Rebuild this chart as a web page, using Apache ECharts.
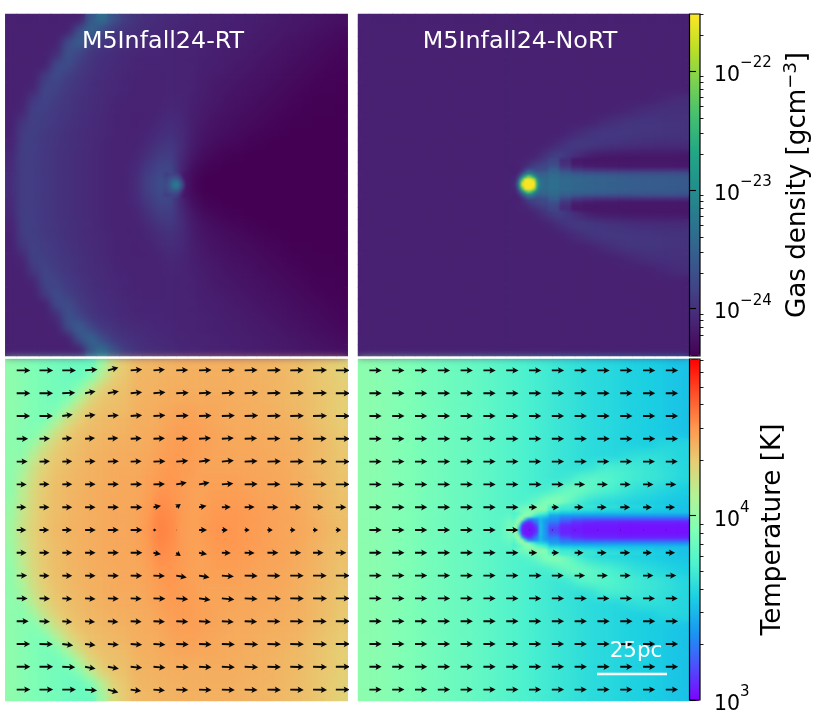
<!DOCTYPE html>
<html>
<head>
<meta charset="utf-8">
<style>
html, body { margin: 0; padding: 0; background: #fff; }
#main { position: relative; width: 830px; height: 715px; overflow: hidden; }
.layer { position: absolute; left: 0; top: 0; width: 830px; height: 715px; }
/* the simulation maps are smooth images, so the cell layers get softened and cut back to the four panels */
.clip { position: absolute; left: 0; top: 0; width: 830px; height: 715px;
  clip-path: path('M5.3 14H347.7V356H5.3Z M358 14H689.3V356H358Z M5.3 359H347.7V701H5.3Z M358 359H689.3V701H358Z'); }
#smooth { filter: blur(4px); }
#patch { filter: blur(0.8px); }
</style>
<script src="https://cdn.jsdelivr.net/npm/echarts@6/dist/echarts.min.js"></script>
</head>
<body>
<div id="main">
  <div id="fields" class="layer"></div>
  <div class="clip"><div id="smooth" class="layer"></div></div>
  <div class="clip"><div id="patch" class="layer"></div></div>
  <div id="overlay" class="layer"></div>
</div>
<script>
// density cells: 100*log10(rho / 1e-25), temperature cells: 100*log10(T / 1000)
var densityRT = [
[86,86,86,86,86,86,86,138,165,132,110,102,98,95,93,91,90,88,87,86,85,84,83,81,80,78,77,76,74,72],
[86,86,86,86,86,86,130,155,125,108,102,98,95,93,91,90,88,87,86,85,84,83,81,80,78,77,75,73,71,69],
[86,86,86,86,86,124,145,120,106,101,97,94,92,90,90,88,87,86,85,84,83,81,80,78,76,74,72,70,68,66],
[86,86,86,86,96,134,118,105,100,96,93,91,90,90,89,88,87,86,85,83,82,80,78,76,74,72,70,68,66,64],
[86,86,86,86,124,126,110,102,98,95,92,90,89,89,89,88,87,85,84,82,80,78,76,74,72,70,68,66,64,63],
[86,86,86,110,125,112,105,100,96,93,91,89,88,88,89,88,86,84,82,80,78,76,74,72,70,68,66,64,62,62],
[86,86,90,120,116,108,103,98,95,92,90,88,87,88,89,88,86,83,80,78,76,74,72,70,68,66,64,62,62,61],
[86,86,108,118,110,105,100,97,94,91,89,87,87,88,90,89,85,82,79,76,74,72,70,68,66,64,62,61,61,61],
[86,90,116,113,108,104,100,96,93,90,88,87,87,89,92,90,84,80,77,74,72,70,68,66,64,62,61,61,61,60],
[86,104,115,110,106,102,98,95,92,89,87,86,88,92,96,92,83,78,74,72,70,68,66,64,62,61,61,60,60,60],
[86,110,113,108,104,100,97,94,92,89,87,87,90,96,100,94,82,76,72,70,67,65,63,62,61,60,60,60,60,60],
[88,112,112,107,103,100,97,94,91,88,87,88,94,102,106,96,80,73,69,66,64,62,61,60,60,60,60,60,60,60],
[92,112,111,106,102,99,96,93,91,88,87,90,100,110,112,92,77,68,64,62,61,60,60,60,60,60,60,60,60,60],
[94,112,111,106,102,99,96,93,91,88,88,93,108,118,120,88,70,63,61,60,60,60,60,60,60,60,60,60,60,60],
[96,112,111,106,102,99,96,93,91,88,88,96,114,125,130,85,66,60,60,60,60,60,60,60,60,60,60,60,60,60],
[96,112,111,106,102,99,96,93,91,88,88,96,114,125,130,85,66,60,60,60,60,60,60,60,60,60,60,60,60,60],
[94,112,111,106,102,99,96,93,91,88,88,93,108,118,120,88,70,63,61,60,60,60,60,60,60,60,60,60,60,60],
[92,112,111,106,102,99,96,93,91,88,87,90,100,110,112,92,77,68,64,62,61,60,60,60,60,60,60,60,60,60],
[88,112,112,107,103,100,97,94,91,88,87,88,94,102,106,96,80,73,69,66,64,62,61,60,60,60,60,60,60,60],
[86,110,113,108,104,100,97,94,92,89,87,87,90,96,100,94,82,76,72,70,67,65,63,62,61,60,60,60,60,60],
[86,104,115,110,106,102,98,95,92,89,87,86,88,92,96,92,83,78,74,72,70,68,66,64,62,61,61,60,60,60],
[86,90,116,113,108,104,100,96,93,90,88,87,87,89,92,90,84,80,77,74,72,70,68,66,64,62,61,61,61,60],
[86,86,108,118,110,105,100,97,94,91,89,87,87,88,90,89,85,82,79,76,74,72,70,68,66,64,62,61,61,61],
[86,86,90,120,116,108,103,98,95,92,90,88,87,88,89,88,86,83,80,78,76,74,72,70,68,66,64,62,62,61],
[86,86,86,110,125,112,105,100,96,93,91,89,88,88,89,88,86,84,82,80,78,76,74,72,70,68,66,64,62,62],
[86,86,86,86,124,126,110,102,98,95,92,90,89,89,89,88,87,85,84,82,80,78,76,74,72,70,68,66,64,63],
[86,86,86,86,96,134,118,105,100,96,93,91,90,90,89,88,87,86,85,83,82,80,78,76,74,72,70,68,66,64],
[86,86,86,86,86,124,145,120,106,101,97,94,92,90,90,88,87,86,85,84,83,81,80,78,76,74,72,70,68,66],
[86,86,86,86,86,86,130,155,125,108,102,98,95,93,91,90,88,87,86,85,84,83,81,80,78,77,75,73,71,69],
[86,86,86,86,86,86,86,138,165,132,110,102,98,95,93,91,90,88,87,86,85,84,83,81,80,78,77,76,74,72]
];

var densityRTCore = [
[110,112,114,114,110,95,80,76],
[116,122,128,130,128,110,84,75],
[120,128,142,152,150,128,96,74],
[122,132,150,172,175,148,110,75],
[122,132,150,172,175,148,110,75],
[120,128,142,152,150,128,96,74],
[116,122,128,130,128,110,84,75],
[110,112,114,114,110,95,80,76]
];

var densityNoRT = [
[86,86,86,86,86,86,86,86,86,86,86,86,86,86,86,86,86,86,86,86,86,86,86,86,86,86,86,86,86],
[86,86,86,86,86,86,86,86,86,86,86,86,86,86,86,86,86,86,86,86,86,86,86,86,86,86,86,86,86],
[86,86,86,86,86,86,86,86,86,86,86,86,86,86,86,86,86,86,86,86,86,86,86,86,86,86,86,86,86],
[86,86,86,86,86,86,86,86,86,86,86,86,86,86,86,86,86,86,86,86,86,86,86,86,86,86,86,86,86],
[86,86,86,86,86,86,86,86,86,86,86,86,86,86,86,86,86,86,86,86,86,86,86,86,86,86,86,86,86],
[86,86,86,86,86,86,86,86,86,86,86,86,86,86,86,86,86,86,86,86,86,86,86,86,86,86,86,86,86],
[86,86,86,86,86,86,86,86,86,86,86,86,86,86,86,86,86,86,86,86,86,86,86,86,86,86,86,86,86],
[86,86,86,86,86,86,86,86,86,86,86,86,86,86,86,86,86,86,86,86,86,86,86,86,86,86,90,94,97],
[86,86,86,86,86,86,86,86,86,86,86,86,86,86,86,86,86,86,86,86,86,86,87,90,94,98,100,100,100],
[86,86,86,86,86,86,86,86,86,86,86,86,86,86,86,86,86,86,86,86,88,95,100,103,104,104,103,102,102],
[86,86,86,86,86,86,86,86,86,86,86,86,86,86,86,86,86,86,90,98,104,106,106,106,105,104,103,102,102],
[86,86,86,86,86,86,86,86,86,86,86,86,86,86,86,86,87,96,106,110,108,104,102,100,98,97,96,96,96],
[86,86,86,86,86,86,86,86,86,86,86,86,86,86,86,88,104,116,104,90,82,80,79,78,78,78,78,78,78],
[86,86,86,86,86,86,86,86,86,86,86,86,86,86,90,115,125,118,92,86,82,80,80,79,79,79,79,79,79],
[86,86,86,86,86,86,86,86,86,86,86,86,86,87,180,220,150,150,148,146,145,145,144,144,143,143,142,141,141],
[86,86,86,86,86,86,86,86,86,86,86,86,86,87,180,220,150,150,148,146,145,145,144,144,143,143,142,141,141],
[86,86,86,86,86,86,86,86,86,86,86,86,86,86,90,115,125,118,92,86,82,80,80,79,79,79,79,79,79],
[86,86,86,86,86,86,86,86,86,86,86,86,86,86,86,88,104,116,104,90,82,80,79,78,78,78,78,78,78],
[86,86,86,86,86,86,86,86,86,86,86,86,86,86,86,86,87,96,106,110,108,104,102,100,98,97,96,96,96],
[86,86,86,86,86,86,86,86,86,86,86,86,86,86,86,86,86,86,90,98,104,106,106,106,105,104,103,102,102],
[86,86,86,86,86,86,86,86,86,86,86,86,86,86,86,86,86,86,86,86,88,95,100,103,104,104,103,102,102],
[86,86,86,86,86,86,86,86,86,86,86,86,86,86,86,86,86,86,86,86,86,86,87,90,94,98,100,100,100],
[86,86,86,86,86,86,86,86,86,86,86,86,86,86,86,86,86,86,86,86,86,86,86,86,86,86,90,94,97],
[86,86,86,86,86,86,86,86,86,86,86,86,86,86,86,86,86,86,86,86,86,86,86,86,86,86,86,86,86],
[86,86,86,86,86,86,86,86,86,86,86,86,86,86,86,86,86,86,86,86,86,86,86,86,86,86,86,86,86],
[86,86,86,86,86,86,86,86,86,86,86,86,86,86,86,86,86,86,86,86,86,86,86,86,86,86,86,86,86],
[86,86,86,86,86,86,86,86,86,86,86,86,86,86,86,86,86,86,86,86,86,86,86,86,86,86,86,86,86],
[86,86,86,86,86,86,86,86,86,86,86,86,86,86,86,86,86,86,86,86,86,86,86,86,86,86,86,86,86],
[86,86,86,86,86,86,86,86,86,86,86,86,86,86,86,86,86,86,86,86,86,86,86,86,86,86,86,86,86],
[86,86,86,86,86,86,86,86,86,86,86,86,86,86,86,86,86,86,86,86,86,86,86,86,86,86,86,86,86]
];

var densityCore = [
[86,86,87,92,100,106,112,112,118,120,122,122],
[86,86,90,100,120,145,145,135,128,130,132,132],
[86,88,100,130,165,185,180,165,150,148,150,150],
[86,92,125,185,245,290,268,210,172,155,155,155],
[87,100,170,265,348,348,348,315,202,165,160,158],
[88,110,200,330,348,348,348,348,232,170,160,158],
[88,110,200,330,348,348,348,348,232,170,160,158],
[87,100,170,265,348,348,348,315,202,165,160,158],
[86,92,125,185,245,290,268,210,172,155,155,155],
[86,88,100,130,165,185,180,165,150,148,150,150],
[86,86,90,100,120,145,145,135,128,130,132,132],
[86,86,87,92,100,106,112,112,118,120,122,122]
];

var densityTail = [
[118,96,80,78,78,78,78,78,78,78,78,78],
[122,98,81,79,79,79,79,79,79,79,79,79],
[130,105,88,84,82,81,80,80,80,80,80,80],
[145,122,108,102,100,99,98,98,98,98,98,98],
[155,142,132,128,126,125,124,124,124,124,124,124],
[160,152,148,146,144,142,140,139,138,138,137,136],
[164,157,154,151,149,147,145,144,143,142,141,140],
[165,158,155,152,150,148,146,145,144,143,142,141],
[165,158,155,152,150,148,146,145,144,143,142,141],
[164,157,154,151,149,147,145,144,143,142,141,140],
[160,152,148,146,144,142,140,139,138,138,137,136],
[155,142,132,128,126,125,124,124,124,124,124,124],
[145,122,108,102,100,99,98,98,98,98,98,98],
[130,105,88,84,82,81,80,80,80,80,80,80],
[122,98,81,79,79,79,79,79,79,79,79,79],
[118,96,80,78,78,78,78,78,78,78,78,78]
];

var tempRT = [
[98,95,92,90,88,86,85,84,104,124,131,136,137,138,138,139,139,139,139,139,139,138,138,137,136,135,134,132,130,128],
[98,95,92,90,88,86,85,92,113,128,132,137,138,138,139,139,140,140,140,140,139,139,138,138,137,135,134,132,130,128],
[98,95,92,90,88,87,94,113,127,132,134,138,138,139,140,140,140,140,140,140,140,139,139,138,137,136,134,132,131,129],
[98,95,92,90,88,92,111,126,132,134,135,138,139,140,141,141,141,141,141,141,140,140,139,138,137,136,135,133,131,129],
[98,95,92,90,92,109,124,131,134,135,136,139,140,141,142,143,143,142,142,141,141,140,140,139,138,137,135,133,131,129],
[98,95,92,92,108,123,130,134,136,137,138,140,140,141,143,144,144,143,142,141,141,141,140,139,139,138,136,134,132,130],
[98,95,93,106,121,129,134,136,137,138,139,140,141,142,144,145,145,144,143,142,141,141,141,140,140,139,137,135,133,131],
[98,96,103,119,128,133,135,137,138,139,140,140,141,143,145,146,145,144,143,142,142,142,141,141,140,139,138,136,134,131],
[98,98,114,125,131,134,136,138,139,140,141,141,142,144,146,146,145,144,143,143,142,142,142,141,141,140,138,136,134,132],
[98,105,120,128,133,135,137,139,140,141,141,141,143,145,147,146,145,143,143,143,143,143,142,142,141,140,138,136,135,132],
[98,110,123,130,134,136,138,139,140,141,142,142,144,146,148,146,144,144,144,144,144,143,143,142,142,140,139,137,135,133],
[98,113,125,131,135,137,138,140,141,141,142,142,144,148,148,146,144,144,145,145,145,144,143,143,142,141,139,137,135,133],
[100,115,126,132,135,137,139,140,141,142,142,142,145,150,149,146,144,144,146,146,146,145,144,143,143,141,140,138,136,134],
[102,117,127,132,135,137,139,140,141,142,142,143,146,152,150,146,144,145,147,147,147,146,145,144,143,142,140,138,136,134],
[104,119,128,133,136,138,139,140,141,142,142,143,147,153,151,146,144,146,148,148,147,146,145,144,143,142,141,139,137,135],
[104,119,128,133,136,138,139,140,141,142,142,143,147,153,151,146,144,146,148,148,147,146,145,144,143,142,141,139,137,135],
[102,117,127,132,135,137,139,140,141,142,142,143,146,152,150,146,144,145,147,147,147,146,145,144,143,142,140,138,136,134],
[100,115,126,132,135,137,139,140,141,142,142,142,145,150,149,146,144,144,146,146,146,145,144,143,143,141,140,138,136,134],
[98,113,125,131,135,137,138,140,141,141,142,142,144,148,148,146,144,144,145,145,145,144,143,143,142,141,139,137,135,133],
[98,110,123,130,134,136,138,139,140,141,142,142,144,146,148,146,144,144,144,144,144,143,143,142,142,140,139,137,135,133],
[98,105,120,128,133,135,137,139,140,141,141,141,143,145,147,146,145,143,143,143,143,143,142,142,141,140,138,136,135,132],
[98,98,114,125,131,134,136,138,139,140,141,141,142,144,146,146,145,144,143,143,142,142,142,141,141,140,138,136,134,132],
[98,96,103,119,128,133,135,137,138,139,140,140,141,143,145,146,145,144,143,142,142,142,141,141,140,139,138,136,134,131],
[98,95,93,106,121,129,134,136,137,138,139,140,141,142,144,145,145,144,143,142,141,141,141,140,140,139,137,135,133,131],
[98,95,92,92,108,123,130,134,136,137,138,140,140,141,143,144,144,143,142,141,141,141,140,139,139,138,136,134,132,130],
[98,95,92,90,92,109,124,131,134,135,136,139,140,141,142,143,143,142,142,141,141,140,140,139,138,137,135,133,131,129],
[98,95,92,90,88,92,111,126,132,134,135,138,139,140,141,141,141,141,141,141,140,140,139,138,137,136,135,133,131,129],
[98,95,92,90,88,87,94,113,127,132,134,138,138,139,140,140,140,140,140,140,140,139,139,138,137,136,134,132,131,129],
[98,95,92,90,88,86,85,92,113,128,132,137,138,138,139,139,140,140,140,140,139,139,138,138,137,135,134,132,130,128],
[98,95,92,90,88,86,85,84,104,124,131,136,137,138,138,139,139,139,139,139,139,138,138,137,136,135,134,132,130,128]
];

var tempNoRT = [
[97,96,95,93,92,90,88,87,85,84,82,80,78,76,74,72,70,68,66,64,62,61,60,58,57,56,55,53,52],
[97,96,95,93,92,90,88,87,85,84,82,80,78,76,74,72,70,68,66,64,62,61,60,58,57,56,55,53,52],
[97,96,95,93,92,90,88,87,85,84,82,80,78,76,74,72,70,68,66,64,62,61,60,58,57,56,55,53,52],
[97,96,95,93,92,90,88,87,85,84,82,80,78,76,74,72,70,68,66,64,62,61,60,58,57,56,55,53,52],
[97,96,95,93,92,90,88,87,85,84,82,80,78,76,74,72,70,68,66,64,62,61,60,58,57,56,55,53,52],
[97,96,95,93,92,90,88,87,85,84,82,80,78,76,74,72,70,68,66,64,62,61,60,58,57,56,55,53,52],
[97,96,95,93,92,90,88,87,85,84,82,80,78,76,74,72,70,68,66,64,62,61,60,58,57,56,55,53,52],
[97,96,95,93,92,90,88,87,85,84,82,80,78,76,74,72,70,68,66,64,62,61,60,58,57,56,59,60,59],
[97,96,95,93,92,90,88,87,85,84,82,80,78,76,74,72,70,68,66,64,62,61,60,62,64,64,63,61,59],
[97,96,95,93,92,90,88,87,85,84,82,80,78,76,74,72,70,68,66,64,66,72,72,71,69,67,65,63,60],
[97,96,95,93,92,90,88,87,85,84,82,80,78,76,74,72,70,68,70,77,80,78,75,72,70,68,66,63,60],
[97,96,95,93,92,90,88,87,85,84,82,80,78,76,74,72,72,78,86,86,80,75,72,68,64,62,60,58,56],
[97,96,95,93,92,90,88,87,85,84,82,80,78,76,74,80,92,96,85,72,66,63,62,60,58,57,55,54,53],
[97,96,95,93,92,90,88,87,85,84,82,80,78,78,92,105,95,72,60,58,57,56,56,55,55,54,54,53,52],
[97,96,95,93,92,90,88,87,85,84,82,80,80,90,100,30,40,30,10,8,6,5,5,5,5,5,5,5,5],
[97,96,95,93,92,90,88,87,85,84,82,80,80,90,100,30,40,30,10,8,6,5,5,5,5,5,5,5,5],
[97,96,95,93,92,90,88,87,85,84,82,80,78,78,92,105,95,72,60,58,57,56,56,55,55,54,54,53,52],
[97,96,95,93,92,90,88,87,85,84,82,80,78,76,74,80,92,96,85,72,66,63,62,60,58,57,55,54,53],
[97,96,95,93,92,90,88,87,85,84,82,80,78,76,74,72,72,78,86,86,80,75,72,68,64,62,60,58,56],
[97,96,95,93,92,90,88,87,85,84,82,80,78,76,74,72,70,68,70,77,80,78,75,72,70,68,66,63,60],
[97,96,95,93,92,90,88,87,85,84,82,80,78,76,74,72,70,68,66,64,66,72,72,71,69,67,65,63,60],
[97,96,95,93,92,90,88,87,85,84,82,80,78,76,74,72,70,68,66,64,62,61,60,62,64,64,63,61,59],
[97,96,95,93,92,90,88,87,85,84,82,80,78,76,74,72,70,68,66,64,62,61,60,58,57,56,59,60,59],
[97,96,95,93,92,90,88,87,85,84,82,80,78,76,74,72,70,68,66,64,62,61,60,58,57,56,55,53,52],
[97,96,95,93,92,90,88,87,85,84,82,80,78,76,74,72,70,68,66,64,62,61,60,58,57,56,55,53,52],
[97,96,95,93,92,90,88,87,85,84,82,80,78,76,74,72,70,68,66,64,62,61,60,58,57,56,55,53,52],
[97,96,95,93,92,90,88,87,85,84,82,80,78,76,74,72,70,68,66,64,62,61,60,58,57,56,55,53,52],
[97,96,95,93,92,90,88,87,85,84,82,80,78,76,74,72,70,68,66,64,62,61,60,58,57,56,55,53,52],
[97,96,95,93,92,90,88,87,85,84,82,80,78,76,74,72,70,68,66,64,62,61,60,58,57,56,55,53,52],
[97,96,95,93,92,90,88,87,85,84,82,80,78,76,74,72,70,68,66,64,62,61,60,58,57,56,55,53,52]
];

var tempCore = [
[74,76,80,85,92,96,95,88,82,78,74,70],
[76,80,88,98,102,92,80,70,62,60,58,55],
[78,86,98,105,60,35,32,35,38,50,44,40],
[82,95,105,45,15,10,12,25,32,50,42,36],
[85,105,70,12,6,5,6,12,22,52,42,36],
[88,108,50,8,5,5,5,8,15,52,42,35],
[88,108,50,8,5,5,5,8,15,52,42,35],
[85,105,70,12,6,5,6,12,22,52,42,36],
[82,95,105,45,15,10,12,25,32,50,42,36],
[78,86,98,105,60,35,32,35,38,50,44,40],
[76,80,88,98,102,92,80,70,62,60,58,55],
[74,76,80,85,92,96,95,88,82,78,74,70]
];

var tempTail = [
[78,72,70,68,66,64,62,60,58,56,54,52],
[74,68,66,64,62,60,58,57,56,54,53,52],
[60,56,54,53,52,52,52,51,51,50,50,50],
[42,38,38,38,38,38,38,38,38,38,38,38],
[36,28,24,22,22,22,22,22,22,22,22,22],
[30,18,12,10,9,9,8,8,8,8,8,8],
[22,10,8,6,6,6,5,5,5,5,5,5],
[16,8,6,5,5,5,4,4,4,4,4,4],
[16,8,6,5,5,5,4,4,4,4,4,4],
[22,10,8,6,6,6,5,5,5,5,5,5],
[30,18,12,10,9,9,8,8,8,8,8,8],
[36,28,24,22,22,22,22,22,22,22,22,22],
[42,38,38,38,38,38,38,38,38,38,38,38],
[60,56,54,53,52,52,52,51,51,50,50,50],
[74,68,66,64,62,60,58,57,56,54,53,52],
[78,72,70,68,66,64,62,60,58,56,54,52]
];

// quiver components in screen pixels, v positive is up
var rtU = [
[13.7,13.7,13.7,12.5,10.5,11.5,11.5,12,12.5,13,13,13.5,13.5,14,14],
[13.7,13.7,13,10.5,11,11.5,12,12.5,12.5,13,13.5,13.5,13.7,14,14],
[13.5,13.5,10.5,10.5,11,11.5,12,12.5,12.5,13,13.5,13.5,13.7,14,14],
[11.5,10.5,10,10,10.5,11,11.5,12,12,12,12.5,13,13.5,13.7,14],
[11,10.5,10,10.5,11,11,12,12,11.5,12,13,13.5,13.7,14,14],
[10,10,10,10.5,11,11.5,11.5,10.5,10.5,11.5,13,13,13.5,13.7,14],
[9.7,10,10,10.5,11,11.7,7.5,4.5,7.5,9,10,11,11,10.5,10.5],
[9.7,9.7,9.7,10.7,11,11.7,3,0.7,8,6,5,5.3,5.3,5,5.3],
[10,10,10,10.5,11,11.7,7.5,4.5,8,9,10,11,11,10.5,10.5],
[10.5,10,10,10.5,11,11.5,11.5,10.5,10.5,12,13,13,13.5,13.7,14],
[11,10.5,10,10.5,11,11,12,12,11.5,12.5,13,13.5,13.7,14,14],
[12,10.5,10,10,10.5,11,11.5,12,12,12,12.5,13,13.5,13.7,14],
[13.5,13.5,11,10.5,11,11.5,12,12.5,12.5,13,13.5,13.5,13.7,14,14],
[13.7,13.7,13,10.5,11,11.5,12,12.5,12.5,13,13.5,13.5,13.7,14,14],
[13.7,13.7,13.7,12,10.5,10.5,11.5,12,12.5,13,13,13.5,13.5,14,14]
];
var rtV = [
[0,0,0,1,3,1,1,0.5,0.5,0.5,0.5,0.3,0.3,0.3,0],
[0,0,0.5,2,2,1,1,0.5,0.5,0.5,0.5,0.3,0.3,0.3,0],
[0,0,1.5,1.2,0.8,0.8,0.7,0.5,0.5,0.5,0.5,0.3,0.3,0.3,0],
[0,0.3,0.7,0.7,0.7,0.6,0.6,0.5,0.8,0.8,0.5,0.3,0.3,0.2,0],
[0,0.3,0.3,0.4,0.4,0.4,0.4,0.8,1.5,1.2,0.5,0.3,0.2,0.1,0],
[0,0.2,0.2,0.2,0.2,0.2,0.3,1.8,1.8,1,0.3,0.2,0.1,0.1,0],
[0,0,0,0,0,0,1.5,3.2,1.5,0.3,0.1,0,0,0,0],
[0,0,0,0,0,0,0,0,0,0,0,0,0,0,0],
[0,0,0,0,0,0,-1.5,-3.2,-1.5,-0.3,-0.1,0,0,0,0],
[0,-0.2,-0.2,-0.2,-0.2,-0.2,-0.5,-1.8,-1.8,-1,-0.3,-0.2,-0.1,-0.1,0],
[0,-0.3,-0.5,-0.5,-0.4,-0.4,-0.4,-0.8,-1.5,-1.2,-0.5,-0.3,-0.2,-0.1,0],
[0,-0.5,-0.8,-0.8,-0.7,-0.6,-0.6,-0.5,-0.8,-0.8,-0.5,-0.3,-0.3,-0.2,0],
[0,-0.3,-1.5,-1.2,-0.8,-0.8,-0.7,-0.5,-0.5,-0.5,-0.5,-0.3,-0.3,-0.3,0],
[0,0,-0.5,-2,-2,-1,-1,-0.5,-0.5,-0.5,-0.5,-0.3,-0.3,-0.3,0],
[0,0,0,-1,-3,-1.5,-1,-0.5,-0.5,-0.5,-0.5,-0.3,-0.3,-0.3,0]
];
var noRtU = [
[12.3,12.3,12.3,12.3,12.3,12.3,12.3,12.3,12.3,12.3,12.3,12.3,12.3,12.3],
[12.3,12.3,12.3,12.3,12.3,12.3,12.3,12.3,12.3,12.3,12.3,12.3,12.3,12.3],
[12.3,12.3,12.3,12.3,12.3,12.3,12.3,12.3,12.3,12.3,12.3,12.3,12.3,12.3],
[12.3,12.3,12.3,12.3,12.3,12.3,12.3,12.3,12.3,12.3,12.3,12.3,12.3,12.3],
[12.3,12.3,12.3,12.3,12.3,12.3,12.3,12.3,12.3,12.3,12,12,12,12],
[12.3,12.3,12.3,12.3,12.3,12.3,12.3,12.7,12,10.5,10.5,10.5,10.5,10.5],
[12.3,12.3,12.3,12.3,12.3,12.3,12.3,8.3,7.3,9,9.3,10,9,9.3],
[12.3,12.3,12.3,12.3,12.3,12.3,12.3,1,1.2,0.8,0.8,0.8,0.8,0.8],
[12.3,12.3,12.3,12.3,12.3,12.3,12.3,8.3,7.3,9,9.3,10,9,9.3],
[12.3,12.3,12.3,12.3,12.3,12.3,12.3,12.7,12,10.5,10.5,10.5,10.5,10.5],
[12.3,12.3,12.3,12.3,12.3,12.3,12.3,12.3,12.3,12.3,12,12,12,12],
[12.3,12.3,12.3,12.3,12.3,12.3,12.3,12.3,12.3,12.3,12.3,12.3,12.3,12.3],
[12.3,12.3,12.3,12.3,12.3,12.3,12.3,12.3,12.3,12.3,12.3,12.3,12.3,12.3],
[12.3,12.3,12.3,12.3,12.3,12.3,12.3,12.3,12.3,12.3,12.3,12.3,12.3,12.3],
[12.3,12.3,12.3,12.3,12.3,12.3,12.3,12.3,12.3,12.3,12.3,12.3,12.3,12.3]
];

var viridisColors = ['#440154','#482475','#414487','#355f8d','#2a788e','#21918c','#22a884','#44bf70','#7ad151','#bddf26','#fde725'];
var rainbowColors = ['#8000ff','#4d4ffc','#1a96f2','#1acee3','#4df2ce','#80ffb5','#b3f296','#e6ce74','#ff964f','#ff4f28','#ff0000'];

var densityRange = [60, 348];
var tempRange = [0, 185];
var densityMajor = [100, 200, 300];
var densityMinor = [77.8,84.5,90.3,95.4,130.1,147.7,160.2,169.9,177.8,184.5,190.3,195.4,230.1,247.7,260.2,269.9,277.8,284.5,290.3,295.4,330.1,347.7];
var tempMajor = [0, 100];
var tempMinor = [30.1,47.7,60.2,69.9,77.8,84.5,90.3,95.4,130.1,147.7,160.2,169.9,177.8,184.5];
var densityExp = { 100: '−24', 200: '−23', 300: '−22' };
var tempExp = { 0: '3', 100: '4' };
var panelTitles = ['M5Infall24-RT', 'M5Infall24-NoRT'];

var FONT = '"DejaVu Sans"';

function newLayer() {
    return { grids: [], xAxes: [], yAxes: [], series: [], density: [], temp: [] };
}

function addHeat(layer, box, rows, kind, z) {
    var g = layer.grids.length;
    layer.grids.push({ left: box[0], top: box[1], width: box[2], height: box[3], show: false });
    var cols = [], rowIds = [], data = [];
    for (var c = 0; c < rows[0].length; c++) cols.push(c);
    for (var r = 0; r < rows.length; r++) {
        rowIds.push(r);
        for (var k = 0; k < rows[r].length; k++) data.push([k, r, rows[r][k]]);
    }
    layer.xAxes.push({ gridIndex: g, type: 'category', data: cols, show: false });
    layer.yAxes.push({ gridIndex: g, type: 'category', data: rowIds, inverse: true, show: false });
    layer[kind].push(layer.series.length);
    layer.series.push({
        type: 'heatmap', xAxisIndex: layer.xAxes.length - 1, yAxisIndex: layer.yAxes.length - 1,
        data: data, z: z, silent: true, progressive: 0, emphasis: { disabled: true }
    });
}

function renderArrow(params, api) {
    var p = api.coord([api.value(0), api.value(1)]);
    var u = api.value(2), v = api.value(3);
    var L = Math.sqrt(u * u + v * v);
    var h = Math.min(6.2, L * 0.9), w = Math.min(3.2, L * 0.55), s = Math.min(0.95, L * 0.3);
    var shape = [[0, -s], [L - h * 0.85, -s], [L - h, -w], [L, 0], [L - h, w], [L - h * 0.85, s], [0, s]];
    var cs = u / L, sn = -v / L;
    var pts = shape.map(function (q) {
        return [p[0] + q[0] * cs - q[1] * sn, p[1] + q[0] * sn + q[1] * cs];
    });
    return { type: 'polygon', shape: { points: pts }, style: { fill: '#0a0a0a' } };
}

function addArrows(layer, box, xr, yr, U, V) {
    var g = layer.grids.length;
    layer.grids.push({ left: box[0], top: box[1], width: box[2], height: box[3], show: false });
    layer.xAxes.push({ gridIndex: g, type: 'value', min: xr[0], max: xr[1], show: false });
    layer.yAxes.push({ gridIndex: g, type: 'value', min: yr[0], max: yr[1], inverse: true, show: false });
    var data = [];
    for (var j = 0; j < U.length; j++) {
        for (var k = 0; k < U[j].length; k++) {
            data.push([k, j, U[j][k], V ? V[j][k] : 0]);
        }
    }
    layer.series.push({
        type: 'custom', xAxisIndex: layer.xAxes.length - 1, yAxisIndex: layer.yAxes.length - 1,
        data: data, renderItem: renderArrow, clip: true, z: 6, silent: true,
        encode: { x: 0, y: 1 }
    });
}

function addColorbar(layer, box, range, major, minor, exps, name, nameGap) {
    var g = layer.grids.length;
    layer.grids.push({
        left: box[0], top: box[1], width: box[2], height: box[3], show: true, z: 10,
        backgroundColor: 'transparent', borderColor: '#000', borderWidth: 1.2
    });
    layer.xAxes.push({ gridIndex: g, type: 'value', show: false });
    var rich = {
        b: { fontFamily: FONT, fontSize: 20.5, color: '#000', lineHeight: 30, verticalAlign: 'bottom' },
        s: { fontFamily: FONT, fontSize: 15, color: '#000', lineHeight: 30, verticalAlign: 'top' },
        n: { fontFamily: FONT, fontSize: 26.2, color: '#000', lineHeight: 32 },
        u: { fontFamily: FONT, fontSize: 18, color: '#000', lineHeight: 32, verticalAlign: 'top' }
    };
    layer.yAxes.push({
        gridIndex: g, type: 'value', position: 'right', min: range[0], max: range[1], z: 11,
        splitLine: { show: false },
        axisLine: { show: false },
        axisTick: { show: true, length: 6.5, lineStyle: { color: '#000', width: 1.1 }, customValues: major },
        axisLabel: {
            show: true, margin: 14, customValues: major, hideOverlap: false, showMinLabel: true, showMaxLabel: true,
            formatter: function (val) { return '{b|10}{s|' + exps[Math.round(val)] + '}'; },
            rich: rich
        },
        name: name, nameLocation: 'middle', nameRotate: 90, nameGap: nameGap,
        nameTextStyle: { rich: rich, fontFamily: FONT, fontSize: 26.2, color: '#000' }
    });
    layer.yAxes.push({
        gridIndex: g, type: 'value', position: 'right', min: range[0], max: range[1], z: 11,
        splitLine: { show: false },
        axisLine: { show: false },
        axisTick: { show: true, length: 3.5, lineStyle: { color: '#000', width: 0.9 }, customValues: minor },
        axisLabel: { show: false }
    });
}

function fieldMaps(layer, show) {
    return [
        {
            type: 'continuous', show: show, seriesIndex: layer.density, dimension: 2,
            min: densityRange[0], max: densityRange[1], calculable: false, text: null,
            left: 689.5, top: 14, itemWidth: 10.5, itemHeight: 342, padding: 0,
            inRange: { color: viridisColors }, z: 5
        },
        {
            type: 'continuous', show: show, seriesIndex: layer.temp, dimension: 2,
            min: tempRange[0], max: tempRange[1], calculable: false, text: null,
            left: 689.5, top: 359, itemWidth: 10.5, itemHeight: 342, padding: 0,
            inRange: { color: rainbowColors }, z: 5
        }
    ];
}

function draw(id, layer, extra) {
    var myChart = echarts.init(document.getElementById(id));
    var option = {
        animation: false,
        backgroundColor: 'transparent',
        textStyle: { fontFamily: FONT },
        tooltip: { show: false },
        grid: layer.grids, xAxis: layer.xAxes, yAxis: layer.yAxes,
        visualMap: fieldMaps(layer, !!extra),
        series: layer.series
    };
    if (extra) {
        option.title = extra.title;
        option.graphic = extra.graphic;
    }
    myChart.setOption(option);
    window.addEventListener('resize', function () {
        myChart.resize();
    });
}

function baseFields() {
    var layer = newLayer();
    addHeat(layer, [5.3, 14, 342.4, 342], densityRT, 'density', 2);
    addHeat(layer, [358, 14, 331.3, 342], densityNoRT, 'density', 2);
    addHeat(layer, [5.3, 359, 342.4, 342], tempRT, 'temp', 2);
    addHeat(layer, [358, 359, 331.3, 342], tempNoRT, 'temp', 2);
    return layer;
}

// finer cells round the bodies and the tail
var patchLayer = newLayer();
addHeat(patchLayer, [164, 173, 24, 24], densityRTCore, 'density', 3);
addHeat(patchLayer, [548, 158.5, 141.3, 52], densityTail, 'density', 3);
addHeat(patchLayer, [512, 166.5, 36, 36], densityCore, 'density', 4);
addHeat(patchLayer, [548, 505, 141.3, 50], tempTail, 'temp', 3);
addHeat(patchLayer, [512, 512, 36, 36], tempCore, 'temp', 4);

var overlayLayer = newLayer();
addArrows(overlayLayer, [5.3, 359, 342.4, 342], [-0.5, 14.52], [-0.5, 14.5], rtU, rtV);
addArrows(overlayLayer, [358, 359, 331.3, 342], [-0.5, 14.03], [-0.5, 14.5], noRtU, null);
addColorbar(overlayLayer, [689.5, 14, 10.5, 342], densityRange, densityMajor, densityMinor, densityExp, 'Gas density [gcm{u|−3}]', 82);
addColorbar(overlayLayer, [689.5, 359, 10.5, 342], tempRange, tempMajor, tempMinor, tempExp, 'Temperature [K]', 60);

draw('fields', baseFields());
draw('smooth', baseFields());
draw('patch', patchLayer);
draw('overlay', overlayLayer, {
    title: [
        { text: panelTitles[0], left: 158, top: 25, textAlign: 'center', textStyle: { color: '#fff', fontFamily: FONT, fontSize: 23.8, fontWeight: 'normal' } },
        { text: panelTitles[1], left: 515, top: 25, textAlign: 'center', textStyle: { color: '#fff', fontFamily: FONT, fontSize: 23.8, fontWeight: 'normal' } }
    ],
    graphic: [
        { type: 'line', z: 20, shape: { x1: 597, y1: 674, x2: 667, y2: 674 }, style: { stroke: '#fff', lineWidth: 2.6 } },
        { type: 'text', z: 20, x: 636, y: 651, style: { text: '25pc', fill: '#fff', fontFamily: FONT, fontSize: 21.4, textAlign: 'center', textVerticalAlign: 'middle' } }
    ]
});
</script>
</body>
</html>
